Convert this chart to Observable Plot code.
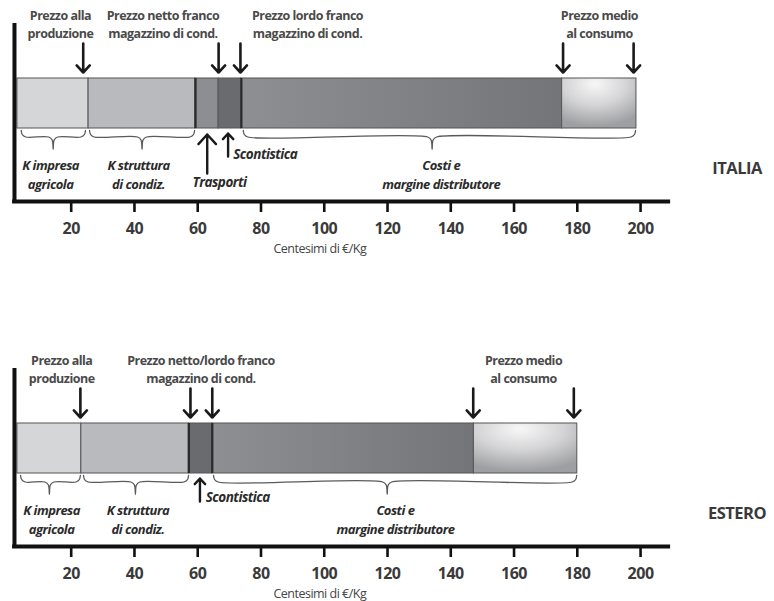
<!DOCTYPE html>
<html><head><meta charset="utf-8">
<script src="https://cdn.jsdelivr.net/npm/d3@7"></script>
<script src="https://cdn.jsdelivr.net/npm/@observablehq/plot@0.6"></script>
<style>
html,body{margin:0;padding:0;background:#fff;}
#chart{position:relative;width:774px;height:601px;overflow:hidden;}
#chart .panel{position:absolute;left:0;width:774px;}
#chart text{letter-spacing:-0.5px;}
</style></head><body>
<svg width="0" height="0" style="position:absolute">
<defs>
<linearGradient id="gCosti" x1="0" y1="0" x2="1" y2="0"><stop offset="0" stop-color="#8e8f92"/><stop offset="1" stop-color="#747578"/></linearGradient>
<radialGradient id="gMedio" cx="0.45" cy="0.12" r="0.85"><stop offset="0" stop-color="#f7f7f7"/><stop offset="0.5" stop-color="#d4d4d6"/><stop offset="1" stop-color="#9e9fa2"/></radialGradient>
</defs></svg>
<div id="chart"></div>
<script>
// ---------- data ----------
const tickValues = [20, 40, 60, 80, 100, 120, 140, 160, 180, 200];
const axisTitle = "Centesimi di €/Kg";

const segmentNames = ["K impresa agricola", "K struttura di condiz.", "Trasporti", "Scontistica", "Costi e margine distributore", "Prezzo medio al consumo"];

const italiaStart = [3.0, 25.5, 59.3, 66.6, 73.8, 175.2];
const italiaEnd   = [25.5, 59.3, 66.6, 73.8, 175.2, 198.7];
const esteroStart = [3.0, 23.2, 57.2, 57.2, 64.6, 147.3];
const esteroEnd   = [23.2, 57.2, 57.2, 64.6, 147.3, 180.0];

const italiaPriceArrows = [23.8, 66.6, 73.5, 175.5, 197.8];
const esteroPriceArrows = [22.9, 57.7, 64.6, 147.1, 178.9];

const italiaPriceLabels = ["Prezzo alla\nproduzione", "Prezzo netto franco\nmagazzino di cond.", "Prezzo lordo franco\nmagazzino di cond.", "Prezzo medio\nal consumo"];
const italiaPriceLabelX = [16.6, 49.0, 94.7, 187.0];
const esteroPriceLabels = ["Prezzo alla\nproduzione", "Prezzo netto/lordo franco\nmagazzino di cond.", "Prezzo medio\nal consumo"];
const esteroPriceLabelX = [17.0, 61.0, 163.0];

const italiaBraceStart = [4.2, 25.8, 74.4];
const italiaBraceEnd   = [24.5, 59.0, 198.4];
const italiaBraceTip   = [14.3, 42.4, 134.1];
const esteroBraceStart = [4.0, 23.9, 65.0];
const esteroBraceEnd   = [22.9, 57.1, 179.8];
const esteroBraceTip   = [13.1, 40.3, 119.9];

const italiaBraceLabels = ["K impresa\nagricola", "K struttura\ndi condiz.", "Costi e\nmargine distributore"];
const italiaBraceLabelX = [13.5, 41.3, 137.0];
const esteroBraceLabels = ["K impresa\nagricola", "K struttura\ndi condiz.", "Costi e\nmargine distributore"];
const esteroBraceLabelX = [13.8, 41.1, 122.5];

const italiaPointers = ["Trasporti", "Scontistica"];
const italiaPointerX = [63.0, 69.6];
const italiaPointerTextX = [66.9, 71.2];
const esteroPointers = ["Scontistica"];
const esteroPointerX = [60.7];
const esteroPointerTextX = [62.5];

const countries = ["ITALIA", "ESTERO"];

// ---------- styles / layout ----------
const segmentFills = ["#d5d6d8", "#b9babd", "#8d8e91", "#6a6b6e", "url(#gCosti)", "url(#gMedio)"];
const L = {
  labelY: 23, arrowTop: 43, arrowTip: 72, barTop: 78, barBottom: 128,
  braceTop: 130, braceMid: 136.5, braceTip: 149, braceLabelY: 173,
  axisY: 201, tickEnd: 212, tickLabelY: 228, titleY: 248,
  axisLeft: 2.07, axisRight: 209.5, vAxisTop: 23, countryX: 230.5, countryY: 168
};
const FONT = "Open Sans";
const xRange = [7.44, 671.7];
const xDomain = [0, 210];
const k = (xDomain[1] - xDomain[0]) / (xRange[1] - xRange[0]); // data units per px

function panel(cfg) {
  const segs = cfg.start.map((s, i) => ({name: segmentNames[i], x1: s, x2: cfg.end[i], fill: segmentFills[i]}))
    .filter(d => d.x2 > d.x1);
  const darkEdges = [cfg.end[1], cfg.end[3]];
  const bracePts = cfg.braceStart.flatMap((s, i) => {
    const e = cfg.braceEnd[i], t = cfg.braceTip[i];
    return [
      [s, L.braceTop], [s + 1 * k, L.braceTop + 4], [s + 4.5 * k, L.braceMid], [t - 4.5 * k, L.braceMid],
      [t - 1 * k, L.braceMid + 3], [t, L.braceTip], [t + 1 * k, L.braceMid + 3], [t + 4.5 * k, L.braceMid],
      [e - 4.5 * k, L.braceMid], [e - 1 * k, L.braceTop + 4], [e, L.braceTop]
    ].map(([x, y]) => ({x, y, z: i}));
  });
  const pointers = cfg.pointers.map((p, i) => ({
    text: p, x: cfg.pointerX[i], tx: cfg.pointerTextX[i], kind: p === "Trasporti" ? "long" : "short"
  }));
  const pointerLong = pointers.filter(d => d.kind === "long");
  const pointerShort = pointers.filter(d => d.kind === "short");

  return Plot.plot({
    width: 774, height: 256, margin: 0,
    x: {domain: xDomain, range: xRange, axis: null},
    y: {domain: [0, 256], range: [0, 256], axis: null},
    color: {type: "identity"},
    marks: [
      Plot.rect(segs, {x1: "x1", x2: "x2", y1: L.barTop, y2: L.barBottom, fill: "fill", stroke: "#555", strokeWidth: 1}),
      Plot.ruleX(darkEdges, {x: d => d, y1: L.barTop, y2: L.barBottom, stroke: "#2a2a2a", strokeWidth: 2.2}),
      Plot.line(bracePts, {x: "x", y: "y", z: "z", curve: "catmull-rom", stroke: "#5a5a5a", strokeWidth: 1.3}),
      Plot.arrow(cfg.arrows, {x1: d => d, x2: d => d, y1: L.arrowTop, y2: L.arrowTip, stroke: "#1a1a1a", strokeWidth: 2.6, headLength: 10, headAngle: 85}),
      Plot.arrow(pointerLong, {x1: "x", x2: "x", y1: 173, y2: 134, stroke: "#1a1a1a", strokeWidth: 2.4, headLength: 9, headAngle: 85}),
      Plot.arrow(pointerShort, {x1: "x", x2: "x", y1: 156, y2: 133, stroke: "#1a1a1a", strokeWidth: 2.4, headLength: 9, headAngle: 85}),
      Plot.text(cfg.priceLabels, {x: (d, i) => cfg.priceLabelX[i], y: L.labelY, text: d => d, lineAnchor: "middle", lineHeight: 1.42,
        fontFamily: FONT, fontWeight: "bold", fontSize: 12.5, fill: "#4a4a4a"}),
      Plot.text(cfg.braceLabels, {x: (d, i) => cfg.braceLabelX[i], y: L.braceLabelY, text: d => d, lineAnchor: "middle", lineHeight: 1.46,
        fontFamily: FONT, fontWeight: "bold", fontStyle: "italic", fontSize: 13, fill: "#2b2b2b"}),
      Plot.text(pointerLong, {x: "tx", y: 182, text: "text", fontFamily: FONT, fontWeight: "bold", fontStyle: "italic", fontSize: 13.5, fill: "#2b2b2b"}),
      Plot.text(pointerShort, {x: "tx", y: cfg.shortY, text: "text", textAnchor: "start", fontFamily: FONT, fontWeight: "bold", fontStyle: "italic", fontSize: 13.5, fill: "#2b2b2b"}),
      Plot.text([cfg.country], {x: L.countryX, y: L.countryY, text: d => d, fontFamily: FONT, fontWeight: "bold", fontSize: 16.5, fill: "#3a3a3a"}),
      Plot.ruleX([L.axisLeft], {x: d => d, y1: L.vAxisTop, y2: L.axisY + 2, stroke: "#111", strokeWidth: 4}),
      Plot.ruleY([L.axisY], {y: d => d, x1: L.axisLeft - 0.6, x2: L.axisRight, stroke: "#111", strokeWidth: 4}),
      Plot.ruleX(tickValues, {x: d => d, y1: L.axisY + 1, y2: L.tickEnd, stroke: "#111", strokeWidth: 2.6}),
      Plot.text(tickValues, {x: d => d, y: L.tickLabelY, text: d => String(d), fontFamily: FONT, fontWeight: "bold", fontSize: 16, fill: "#3a3a3a"}),
      Plot.text([axisTitle], {x: 98.6, y: L.titleY, text: d => d, fontFamily: FONT, fontSize: 12.5, fill: "#444"})
    ]
  });
}

const chart = document.getElementById("chart");
const panels = [
  {top: 0, cfg: {start: italiaStart, end: italiaEnd, arrows: italiaPriceArrows, priceLabels: italiaPriceLabels, priceLabelX: italiaPriceLabelX,
    braceStart: italiaBraceStart, braceEnd: italiaBraceEnd, braceTip: italiaBraceTip, braceLabels: italiaBraceLabels, braceLabelX: italiaBraceLabelX,
    pointers: italiaPointers, pointerX: italiaPointerX, pointerTextX: italiaPointerTextX, shortY: 154, country: countries[0]}},
  {top: 345, cfg: {start: esteroStart, end: esteroEnd, arrows: esteroPriceArrows, priceLabels: esteroPriceLabels, priceLabelX: esteroPriceLabelX,
    braceStart: esteroBraceStart, braceEnd: esteroBraceEnd, braceTip: esteroBraceTip, braceLabels: esteroBraceLabels, braceLabelX: esteroBraceLabelX,
    pointers: esteroPointers, pointerX: esteroPointerX, pointerTextX: esteroPointerTextX, shortY: 152, country: countries[1]}}
];
for (const p of panels) {
  const div = document.createElement("div");
  div.className = "panel";
  div.style.top = p.top + "px";
  div.appendChild(panel(p.cfg));
  chart.appendChild(div);
}
</script>
</body></html>
